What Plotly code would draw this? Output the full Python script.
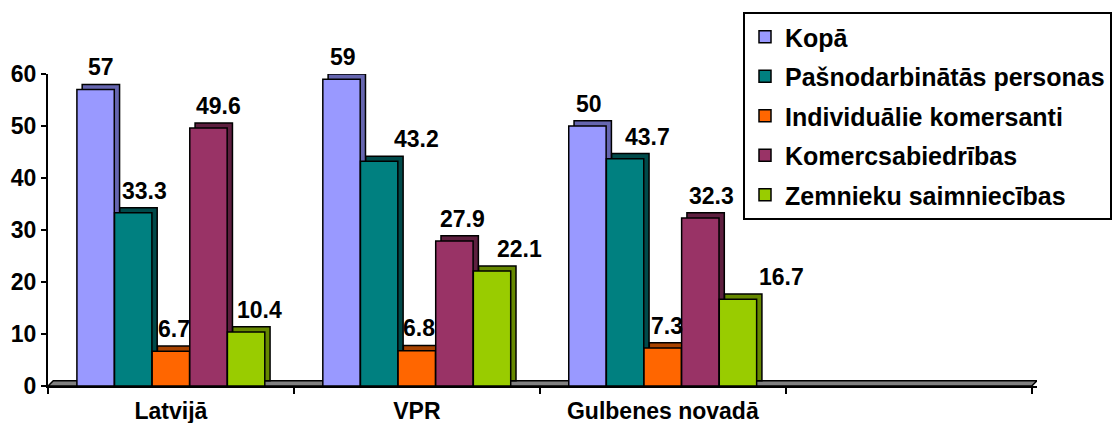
import plotly.graph_objects as go

# ---- data ----
categories = ["Latvijā", "VPR", "Gulbenes novadā", ""]
series_names = ["Kopā", "Pašnodarbinātās personas", "Individuālie komersanti",
                "Komercsabiedrības", "Zemnieku saimniecības"]
kopa = [57, 59, 50]
pasnodarbinatas = [33.3, 43.2, 43.7]
individualie = [6.7, 6.8, 7.3]
komercsabiedribas = [49.6, 27.9, 32.3]
zemnieku = [10.4, 22.1, 16.7]
y_ticks = [0, 10, 20, 30, 40, 50, 60]

series_values = [kopa, pasnodarbinatas, individualie, komercsabiedribas, zemnieku]

# ---- styles ----
front_colors = ["#9999FF", "#008080", "#FF6600", "#993366", "#99CC00"]
side_colors = ["#6666B0", "#004A4A", "#A84300", "#5E1F3F", "#668800"]
# manual label nudges (px) as placed in the original chart
label_nudge_px = [[5, 1, 2], [11, 37, 22], [3, 2, 4], [10, 8, 11], [13, 27, 44]]

bar_w = 0.152
pitch = 0.153
depth_x = 0.0215   # 3D depth in category units
depth_y = 1.0      # 3D depth in value units
x_pos = list(range(len(kopa)))

FONT = "Arial, 'Liberation Sans', sans-serif"

fig = go.Figure()
annotations = []
for i, (name, vals) in enumerate(zip(series_names, series_values)):
    off = -2.5 * pitch + i * pitch
    # depth (side + top faces)
    fig.add_trace(go.Bar(
        x=x_pos, y=vals, base=depth_y, offset=off + depth_x, width=bar_w,
        marker=dict(color=side_colors[i], line=dict(color="black", width=1.5)),
        showlegend=False, legendgroup=name, hoverinfo="skip"))
    # front face
    fig.add_trace(go.Bar(
        x=x_pos, y=vals, offset=off, width=bar_w, name=name,
        marker=dict(color=front_colors[i], line=dict(color="black", width=1.5)),
        legendgroup=name))
    for j, v in enumerate(vals):
        annotations.append(dict(
            x=x_pos[j] + off + bar_w / 2, y=v + depth_y, xref="x", yref="y",
            text=f"{v:g}", showarrow=False, xanchor="center", yanchor="bottom",
            xshift=label_nudge_px[i][j], yshift=2,
            font=dict(family=FONT, size=23, color="black", weight="bold")))

x_min, x_max = -0.5, len(categories) - 0.5

fig.add_shape(type="path",
              path=(f"M {x_min},0 L {x_min + depth_x},{depth_y} "
                    f"L {x_max + depth_x},{depth_y} L {x_max},0 Z"),
              xref="x", yref="y", fillcolor="#808080",
              line=dict(color="black", width=1.5), layer="below")

fig.update_layout(
    width=1116, height=423,
    margin=dict(l=48, r=79, t=74, b=37, autoexpand=False),
    paper_bgcolor="white", plot_bgcolor="white",
    barmode="overlay",
    font=dict(family=FONT, size=23, color="black", weight="bold"),
    annotations=annotations,
    showlegend=True,
    legend=dict(x=(743 - 48) / 989, y=(386.5 - 12) / 312.5,
                xanchor="left", yanchor="top",
                bordercolor="black", borderwidth=2, bgcolor="white",
                font=dict(family=FONT, size=25, color="black", weight="bold"),
                traceorder="grouped", tracegroupgap=4),
    xaxis=dict(range=[x_min, x_max + depth_x],
               tickmode="array", tickvals=list(range(len(categories))),
               ticktext=categories, ticks="outside", ticklen=3,
               tickcolor="rgba(0,0,0,0)",
               showline=True, linecolor="black", linewidth=2,
               showgrid=False, zeroline=False, automargin=False,
               minor=dict(tickmode="array",
                          tickvals=[k - 0.5 for k in range(len(categories) + 1)],
                          ticks="outside", ticklen=6, tickwidth=2,
                          tickcolor="black", showgrid=False)),
    yaxis=dict(range=[0, 60], tickmode="array", tickvals=y_ticks,
               ticks="outside", ticklen=5, tickwidth=2, tickcolor="black",
               showline=True, linecolor="black", linewidth=2,
               showgrid=False, zeroline=False, automargin=False),
)

fig.write_html("out.html", config={"displayModeBar": False},
               post_script="document.body.style.margin='0';document.body.style.overflow='hidden';")
